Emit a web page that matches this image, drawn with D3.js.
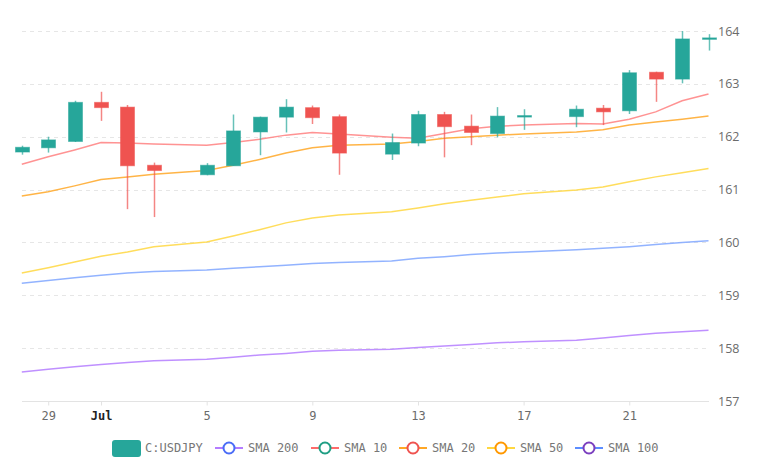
<!DOCTYPE html>
<meta charset="utf-8">
<script src="https://d3js.org/d3.v7.min.js"></script>
<style>
  body { margin: 0; background: #fff; }
  #chart { font-family: "DejaVu Sans Mono", monospace; font-size: 12px; }
</style>
<div id="chart"></div>
<script>
// daily candles (gaps: Jul 4, Jul 11, Jul 18)
var dates = ["2024-06-28","2024-06-29","2024-06-30","2024-07-01","2024-07-02","2024-07-03",
  "2024-07-05","2024-07-06","2024-07-07","2024-07-08","2024-07-09","2024-07-10",
  "2024-07-12","2024-07-13","2024-07-14","2024-07-15","2024-07-16","2024-07-17",
  "2024-07-19","2024-07-20","2024-07-21","2024-07-22","2024-07-23","2024-07-24"];
var opens  = [161.71,161.79,161.91,162.65,162.56,161.46,161.28,161.45,162.09,162.37,162.55,162.38,
  161.67,161.88,162.42,162.20,162.06,162.38,162.38,162.54,162.49,163.22,163.09,163.85];
var highs  = [161.83,162.00,162.68,162.85,162.60,161.51,161.50,162.42,162.38,162.71,162.59,162.42,
  162.06,162.49,162.47,162.42,162.56,162.52,162.59,162.60,163.26,163.23,164.00,163.94];
var lows   = [161.66,161.70,161.90,162.30,160.63,160.48,161.27,161.45,161.65,162.08,162.24,161.28,
  161.56,161.82,161.61,161.84,161.99,162.13,162.18,162.22,162.43,162.66,163.01,163.63];
var closes = [161.80,161.94,162.65,162.55,161.45,161.36,161.46,162.11,162.37,162.56,162.36,161.69,
  161.89,162.42,162.19,162.08,162.39,162.40,162.52,162.47,163.21,163.09,163.85,163.87];

var smaRed    = [161.48,161.62,161.75,161.89,161.88,161.86,161.84,161.89,161.95,162.03,162.08,162.05,
  161.99,161.97,162.06,162.15,162.20,162.22,162.25,162.24,162.33,162.47,162.68,162.81];
var smaOrange = [160.88,160.96,161.07,161.19,161.24,161.29,161.36,161.46,161.57,161.69,161.79,161.84,
  161.86,161.91,161.97,162.00,162.03,162.05,162.09,162.13,162.22,162.28,162.33,162.39];
var smaYellow = [159.42,159.52,159.63,159.74,159.82,159.92,160.01,160.12,160.24,160.37,160.46,160.52,
  160.58,160.65,160.73,160.80,160.86,160.92,160.99,161.05,161.15,161.24,161.32,161.40];
var smaBlue   = [159.23,159.28,159.33,159.38,159.42,159.45,159.48,159.51,159.54,159.57,159.60,159.62,
  159.65,159.70,159.73,159.77,159.80,159.82,159.86,159.89,159.92,159.96,160.00,160.03];
var smaPurple = [157.55,157.60,157.65,157.69,157.73,157.76,157.79,157.83,157.87,157.90,157.94,157.96,
  157.98,158.01,158.04,158.07,158.10,158.12,158.15,158.19,158.24,158.28,158.31,158.34];

var yTicks = [157,158,159,160,161,162,163,164];
var xTicks = ["2024-06-29","2024-07-01","2024-07-05","2024-07-09","2024-07-13","2024-07-17","2024-07-21"];

var legendNames  = ["C:USDJPY","SMA 200","SMA 10","SMA 20","SMA 50","SMA 100"];
var legendLine   = ["#26a69a","#b47cff","#ff6b6b","#ffa726","#ffd740","#5c8dff"];
var legendCircle = ["#26a69a","#4a6cf7","#1f9e84","#ef5350","#ff9800","#7b3fbf"];

var W = 770, H = 463;
var parse = d3.timeParse("%Y-%m-%d");
var days = dates.map(parse);

var svg = d3.select("#chart").append("svg").attr("width", W).attr("height", H);

var x = d3.scaleTime()
  .domain([parse("2024-06-28"), parse("2024-07-24")])
  .range([21.8, 708.5]);
var y = d3.scaleLinear().domain([157, 164]).range([401, 31]);

// grid
svg.append("g").selectAll("line")
  .data(yTicks.filter(function(d){ return d > 157; }))
  .enter().append("line")
    .attr("x1", 22).attr("x2", 709)
    .attr("y1", function(d){ return Math.round(y(d)) + 0.5; })
    .attr("y2", function(d){ return Math.round(y(d)) + 0.5; })
    .attr("stroke", "#e6e6e6").attr("stroke-dasharray", "4,4");

// x axis
var xa = svg.append("g").attr("transform", "translate(0," + 401.5 + ")")
  .call(d3.axisBottom(x).tickValues(xTicks.map(parse)).tickSize(4).tickPadding(6)
    .tickFormat(function(d){ return d.getDate() === 1 ? "Jul" : d.getDate(); }));
xa.select(".domain").attr("stroke", "#e3e3e3").attr("d", "M22,0H709");
xa.selectAll(".tick line").attr("stroke", "#e3e3e3");
xa.selectAll("text")
  .style("font-family", "'DejaVu Sans Mono', monospace").style("font-size", "12px")
  .style("font-weight", function(d){ return d.getDate() === 1 ? "bold" : "normal"; })
  .style("fill", function(d){ return d.getDate() === 1 ? "#222" : "#6b6b6b"; });

// y axis labels
var ya = svg.append("g").attr("transform", "translate(709,0)")
  .call(d3.axisRight(y).tickValues(yTicks).tickSize(0).tickPadding(9).tickFormat(d3.format("d")));
ya.select(".domain").remove();
ya.selectAll("text").attr("fill", "#6b6b6b")
  .style("font-family", "'Open Sans', sans-serif").style("font-size", "12.5px");

// sma lines
var line = d3.line().x(function(d, i){ return x(days[i]); }).y(function(d){ return y(d); });
var smas = [[smaPurple,"#b47cff"],[smaBlue,"#7fa6ff"],[smaYellow,"#ffd740"],[smaOrange,"#ffa726"],[smaRed,"#ff8080"]];
smas.forEach(function(s){
  svg.append("path").datum(s[0]).attr("d", line)
    .attr("fill", "none").attr("stroke", s[1]).attr("stroke-width", 1.5).attr("stroke-opacity", 0.85);
});

// candles
var cw = 14;
var cg = svg.append("g").selectAll("g").data(days).enter().append("g");
cg.append("line")
  .attr("x1", function(d){ return Math.round(x(d)) + 0.5; })
  .attr("x2", function(d){ return Math.round(x(d)) + 0.5; })
  .attr("y1", function(d, i){ return y(highs[i]); })
  .attr("y2", function(d, i){ return y(lows[i]); })
  .attr("stroke", function(d, i){ return closes[i] >= opens[i] ? "#26a69a" : "#ef5350"; })
  .attr("stroke-opacity", 0.7).attr("stroke-width", 1.5);
cg.append("rect")
  .attr("x", function(d){ return Math.round(x(d)) + 0.5 - cw / 2; })
  .attr("width", cw)
  .attr("y", function(d, i){ return y(Math.max(opens[i], closes[i])); })
  .attr("height", function(d, i){ return Math.max(1.5, Math.abs(y(opens[i]) - y(closes[i]))); })
  .attr("fill", function(d, i){ return closes[i] >= opens[i] ? "#26a69a" : "#ef5350"; })
  .attr("stroke", function(d, i){ return closes[i] >= opens[i] ? "#26a69a" : "#ef5350"; })
  .attr("stroke-opacity", 0.5).attr("stroke-width", 1);

// legend
var lx = [112, 215, 311, 399, 487, 575];
var lg = svg.append("g").attr("transform", "translate(0,448)");
legendNames.forEach(function(n, i){
  var g = lg.append("g").attr("transform", "translate(" + lx[i] + ",0)");
  if (i === 0) {
    g.append("rect").attr("x", 0).attr("y", -8).attr("width", 29).attr("height", 17)
      .attr("rx", 3).attr("fill", "#26a69a");
  } else {
    g.append("line").attr("x1", 0).attr("x2", 28).attr("y1", 0).attr("y2", 0)
      .attr("stroke", legendLine[i]).attr("stroke-width", 2);
    g.append("circle").attr("cx", 14).attr("cy", 0).attr("r", 5.5)
      .attr("fill", "#fff").attr("stroke", legendCircle[i]).attr("stroke-width", 2);
  }
  g.append("text").attr("x", 33).attr("y", 0).attr("dy", "0.35em")
    .attr("fill", "#777").style("font-size", "12px").text(n);
});
</script>
